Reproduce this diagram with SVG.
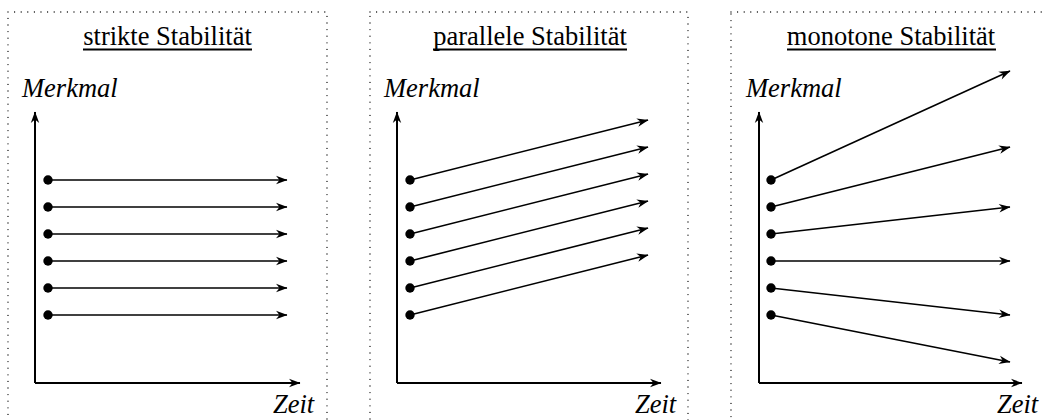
<svg xmlns="http://www.w3.org/2000/svg" width="1042" height="420" viewBox="0 0 1042 420">
<style>
.frame{fill:none;stroke:#000;stroke-width:1.3;stroke-dasharray:0 6.6;stroke-linecap:round}
.title{font-family:"Liberation Serif",serif;font-size:26.5px;text-anchor:middle;fill:#000}
.ul{stroke:#000;stroke-width:1.8}
.lab{font-family:"Liberation Serif",serif;font-style:italic;font-size:26.5px;fill:#000}
.axis{fill:none;stroke:#000;stroke-width:2;marker-end:url(#ah)}
.ln{fill:none;stroke:#000;stroke-width:1.6;marker-end:url(#ah)}
.dot{fill:#000}
</style>
<defs>
<marker id="ah" markerUnits="userSpaceOnUse" viewBox="-12 -5 13 10" refX="0" refY="0" markerWidth="13" markerHeight="10" orient="auto">
<path d="M0.5,0 L-11,-4.2 L-7.5,0 L-11,4.2 Z" fill="#000"/>
</marker>
</defs>

<g id="panel1">
<rect class="frame" x="8" y="12" width="319" height="430"/>
<text class="title" x="167.5" y="45">strikte Stabilität</text>
<line class="ul" x1="83" y1="49.5" x2="252" y2="49.5"/>
<text class="lab" x="22" y="97">Merkmal</text>
<text class="lab" x="273" y="413">Zeit</text>
</g>
<g id="panel2">
<rect class="frame" x="370" y="12" width="318" height="430"/>
<text class="title" x="530" y="45">parallele Stabilität</text>
<line class="ul" x1="433" y1="49.5" x2="627" y2="49.5"/>
<text class="lab" x="384" y="97">Merkmal</text>
<text class="lab" x="635" y="413">Zeit</text>
</g>
<g id="panel3">
<rect class="frame" x="731" y="12" width="330" height="430"/>
<text class="title" x="891" y="45">monotone Stabilität</text>
<line class="ul" x1="787" y1="49.5" x2="996" y2="49.5"/>
<text class="lab" x="746" y="97">Merkmal</text>
<text class="lab" x="997" y="413">Zeit</text>
</g>

<g id="connectors">
<polyline class="axis" points="35,383 35,112"/>
<polyline class="axis" points="35,383 300,383"/>
<polyline class="axis" points="397,383 397,112"/>
<polyline class="axis" points="397,383 661,383"/>
<polyline class="axis" points="759,383 759,112"/>
<polyline class="axis" points="759,383 1022,383"/>

<line class="ln" x1="48" y1="180" x2="287" y2="180"/>
<line class="ln" x1="48" y1="207" x2="287" y2="207"/>
<line class="ln" x1="48" y1="234" x2="287" y2="234"/>
<line class="ln" x1="48" y1="261" x2="287" y2="261"/>
<line class="ln" x1="48" y1="288" x2="287" y2="288"/>
<line class="ln" x1="48" y1="315" x2="287" y2="315"/>

<line class="ln" x1="410" y1="180" x2="648" y2="120"/>
<line class="ln" x1="410" y1="207" x2="648" y2="147"/>
<line class="ln" x1="410" y1="234" x2="648" y2="174"/>
<line class="ln" x1="410" y1="261" x2="648" y2="201"/>
<line class="ln" x1="410" y1="288" x2="648" y2="228"/>
<line class="ln" x1="410" y1="315" x2="648" y2="255"/>

<line class="ln" x1="771" y1="180" x2="1010" y2="71"/>
<line class="ln" x1="771" y1="207" x2="1010" y2="147"/>
<line class="ln" x1="771" y1="234" x2="1010" y2="207"/>
<line class="ln" x1="771" y1="261" x2="1010" y2="261"/>
<line class="ln" x1="771" y1="288" x2="1010" y2="315"/>
<line class="ln" x1="771" y1="315" x2="1010" y2="362"/>
</g>

<g id="dots">
<circle class="dot" cx="48" cy="180" r="4.7"/><circle class="dot" cx="48" cy="207" r="4.7"/><circle class="dot" cx="48" cy="234" r="4.7"/><circle class="dot" cx="48" cy="261" r="4.7"/><circle class="dot" cx="48" cy="288" r="4.7"/><circle class="dot" cx="48" cy="315" r="4.7"/>
<circle class="dot" cx="410" cy="180" r="4.7"/><circle class="dot" cx="410" cy="207" r="4.7"/><circle class="dot" cx="410" cy="234" r="4.7"/><circle class="dot" cx="410" cy="261" r="4.7"/><circle class="dot" cx="410" cy="288" r="4.7"/><circle class="dot" cx="410" cy="315" r="4.7"/>
<circle class="dot" cx="771" cy="180" r="4.7"/><circle class="dot" cx="771" cy="207" r="4.7"/><circle class="dot" cx="771" cy="234" r="4.7"/><circle class="dot" cx="771" cy="261" r="4.7"/><circle class="dot" cx="771" cy="288" r="4.7"/><circle class="dot" cx="771" cy="315" r="4.7"/>
</g>
</svg>
